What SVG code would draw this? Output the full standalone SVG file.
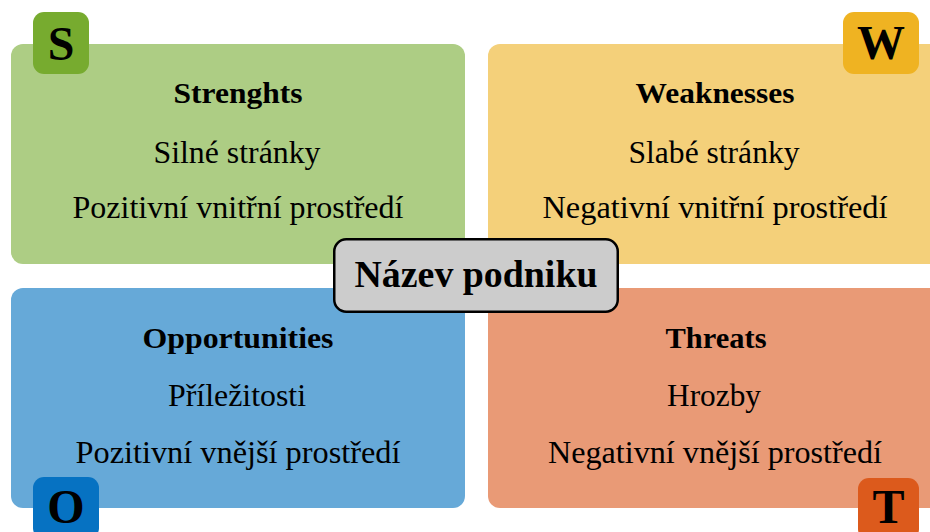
<svg xmlns="http://www.w3.org/2000/svg" width="930" height="532" viewBox="0 0 930 532">
<style>
.t{font-family:"Liberation Serif","Times New Roman",serif;fill:#000;text-anchor:middle}
.title{font-size:30px;font-weight:bold}
.body{font-size:31px}
.badge{font-size:48px;font-weight:bold}
.center{font-size:38px;font-weight:bold}
</style>
<g id="strengths">
<rect x="11" y="44" width="454" height="220" rx="12" fill="#adcd84"/>
<text class="t title" x="238" y="103" textLength="129" lengthAdjust="spacingAndGlyphs">Strenghts</text>
<text class="t body" x="237" y="163" textLength="167" lengthAdjust="spacingAndGlyphs">Silné stránky</text>
<text class="t body" x="238" y="218" textLength="331" lengthAdjust="spacingAndGlyphs">Pozitivní vnitřní prostředí</text>
</g>
<g id="weaknesses">
<rect x="488" y="44" width="454" height="220" rx="12" fill="#f4d07a"/>
<text class="t title" x="715" y="103" textLength="159" lengthAdjust="spacingAndGlyphs">Weaknesses</text>
<text class="t body" x="714" y="163" textLength="171" lengthAdjust="spacingAndGlyphs">Slabé stránky</text>
<text class="t body" x="715" y="218" textLength="345" lengthAdjust="spacingAndGlyphs">Negativní vnitřní prostředí</text>
</g>
<g id="opportunities">
<rect x="11" y="288" width="454" height="220" rx="12" fill="#66a9d8"/>
<text class="t title" x="238" y="348" textLength="191" lengthAdjust="spacingAndGlyphs">Opportunities</text>
<text class="t body" x="237" y="406" textLength="138" lengthAdjust="spacingAndGlyphs">Příležitosti</text>
<text class="t body" x="238" y="463" textLength="325" lengthAdjust="spacingAndGlyphs">Pozitivní vnější prostředí</text>
</g>
<g id="threats">
<rect x="488" y="288" width="454" height="220" rx="12" fill="#e99a76"/>
<text class="t title" x="716" y="348" textLength="101" lengthAdjust="spacingAndGlyphs">Threats</text>
<text class="t body" x="714" y="406" textLength="94" lengthAdjust="spacingAndGlyphs">Hrozby</text>
<text class="t body" x="715" y="463" textLength="334" lengthAdjust="spacingAndGlyphs">Negativní vnější prostředí</text>
</g>
<g id="badge-s">
<rect x="33" y="12" width="56" height="62" rx="11" fill="#77ab2f"/>
<text class="t badge" x="61" y="60">S</text>
</g>
<g id="badge-w">
<rect x="843" y="12" width="76" height="62" rx="11" fill="#efb322"/>
<text class="t badge" x="881" y="59">W</text>
</g>
<g id="badge-o">
<rect x="33" y="477" width="66" height="62" rx="11" fill="#0672c2"/>
<text class="t badge" x="66" y="523">O</text>
</g>
<g id="badge-t">
<rect x="858" y="478" width="61" height="62" rx="11" fill="#dc5a1c"/>
<text class="t badge" x="888.5" y="523">T</text>
</g>
<g id="company">
<rect x="334.25" y="239.25" width="283.5" height="72.5" rx="12" fill="#cccccc" stroke="#000" stroke-width="2.5"/>
<text class="t center" x="476" y="287" textLength="243" lengthAdjust="spacingAndGlyphs">Název podniku</text>
</g>
</svg>
